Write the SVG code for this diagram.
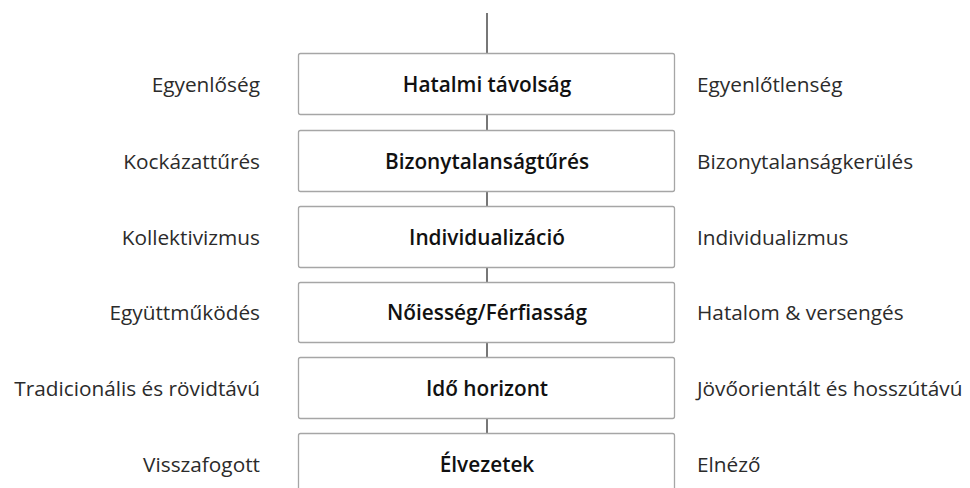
<svg xmlns="http://www.w3.org/2000/svg" width="970" height="488" viewBox="0 0 970 488">
<style>
.box{fill:#fff;stroke:#a6a6a6;stroke-width:1.3}
.t{font-family:"Open Sans","Liberation Sans",sans-serif;font-size:20.8px;fill:#111;font-weight:600;text-anchor:middle;dominant-baseline:central}
.l{font-family:"Open Sans","Liberation Sans",sans-serif;font-size:20.8px;fill:#2b2b2b;text-anchor:end;dominant-baseline:central}
.r{font-family:"Open Sans","Liberation Sans",sans-serif;font-size:20.8px;fill:#2b2b2b;text-anchor:start;dominant-baseline:central}
.c{stroke:#555;stroke-width:1.6;fill:none}
</style>
<rect width="970" height="488" fill="#fff"/>
<g id="connectors">
<line class="c" x1="487" y1="13" x2="487" y2="53"/>
<line class="c" x1="487" y1="114" x2="487" y2="130"/>
<line class="c" x1="487" y1="191" x2="487" y2="206"/>
<line class="c" x1="487" y1="267" x2="487" y2="282"/>
<line class="c" x1="487" y1="342" x2="487" y2="357"/>
<line class="c" x1="487" y1="418" x2="487" y2="433"/>
</g>
<g id="n1"><rect class="box" x="298.5" y="53.5" width="376" height="61" rx="2"/><text class="t" x="487" y="84">Hatalmi távolság</text></g>
<g id="n2"><rect class="box" x="298.5" y="130.5" width="376" height="61" rx="2"/><text class="t" x="487" y="161">Bizonytalanságtűrés</text></g>
<g id="n3"><rect class="box" x="298.5" y="206.5" width="376" height="61" rx="2"/><text class="t" x="487" y="237">Individualizáció</text></g>
<g id="n4"><rect class="box" x="298.5" y="282.5" width="376" height="60" rx="2"/><text class="t" x="487" y="312">Nőiesség/Férfiasság</text></g>
<g id="n5"><rect class="box" x="298.5" y="357.5" width="376" height="61" rx="2"/><text class="t" x="487" y="388">Idő horizont</text></g>
<g id="n6"><rect class="box" x="298.5" y="433.5" width="376" height="61" rx="2"/><text class="t" x="487" y="464">Élvezetek</text></g>
<g id="labels">
<text class="l" x="260" y="84">Egyenlőség</text>
<text class="r" x="697" y="84">Egyenlőtlenség</text>
<text class="l" x="260" y="161">Kockázattűrés</text>
<text class="r" x="697" y="161">Bizonytalanságkerülés</text>
<text class="l" x="260" y="237">Kollektivizmus</text>
<text class="r" x="697" y="237">Individualizmus</text>
<text class="l" x="260" y="312">Együttműködés</text>
<text class="r" x="697" y="312">Hatalom &amp; versengés</text>
<text class="l" x="260" y="388">Tradicionális és rövidtávú</text>
<text class="r" x="697" y="388">Jövőorientált és hosszútávú</text>
<text class="l" x="260" y="464">Visszafogott</text>
<text class="r" x="697" y="464">Elnéző</text>
</g>
</svg>
